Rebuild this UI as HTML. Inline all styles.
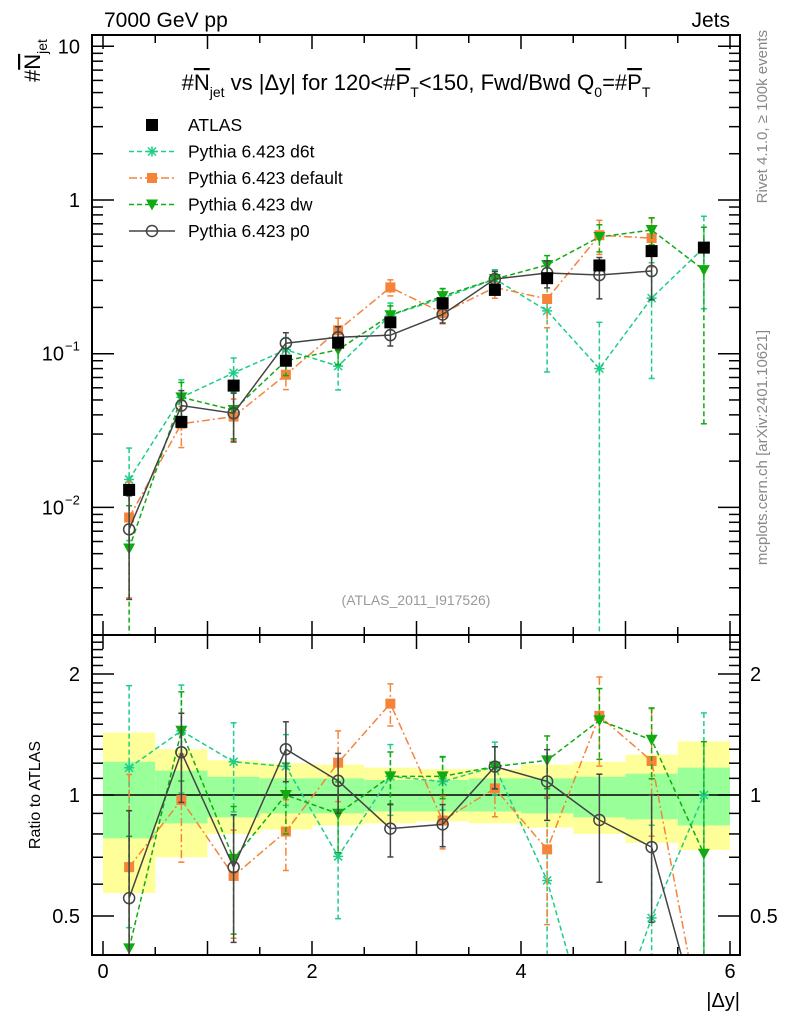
<!DOCTYPE html>
<html><head><meta charset="utf-8"><style>
html,body{margin:0;padding:0;background:#fff;width:786px;height:1024px;overflow:hidden;}
svg{display:block;font-family:"Liberation Sans",sans-serif;}
</style></head><body>
<svg id="c" width="786" height="1024" viewBox="0 0 786 1024">
<defs>
<clipPath id="mainClip"><rect x="92" y="35" width="648" height="600"/></clipPath>
<clipPath id="ratioClip"><rect x="92" y="635" width="648" height="320"/></clipPath>
</defs>
<g id="bands" clip-path="url(#ratioClip)"></g>
<g id="mainMarks" clip-path="url(#mainClip)"></g>
<g id="ratioMarks" clip-path="url(#ratioClip)"></g>
<rect x="92" y="35" width="648" height="600" fill="none" stroke="#000" stroke-width="2"/>
<rect x="92" y="635" width="648" height="320" fill="none" stroke="#000" stroke-width="2"/>
<g id="axes"></g>
<text x="104" y="27" font-size="21">7000 GeV pp</text>
<text x="730" y="27" font-size="21" text-anchor="end">Jets</text>
<text x="416" y="90" font-size="22" text-anchor="middle">#<tspan text-decoration="overline">N</tspan><tspan font-size="14" dy="7">jet</tspan><tspan dy="-7"> vs |Δy| for 120&lt;#</tspan><tspan text-decoration="overline">P</tspan><tspan font-size="14" dy="7">T</tspan><tspan dy="-7">&lt;150, Fwd/Bwd Q</tspan><tspan font-size="14" dy="7">0</tspan><tspan dy="-7">=#</tspan><tspan text-decoration="overline">P</tspan><tspan font-size="14" dy="7">T</tspan></text>
<g transform="translate(40,82) rotate(-90)"><text x="0" y="0" font-size="22">#<tspan text-decoration="overline">N</tspan><tspan font-size="14" dy="7">jet</tspan></text></g>
<text transform="translate(40,795) rotate(-90)" font-size="16" text-anchor="middle">Ratio to ATLAS</text>
<text x="740" y="1007" font-size="20" text-anchor="end">|Δy|</text>
<text x="416" y="605" font-size="14" fill="#999" text-anchor="middle">(ATLAS_2011_I917526)</text>
<text transform="translate(767,30) rotate(-90)" font-size="15" fill="#888" text-anchor="end">Rivet 4.1.0, ≥ 100k events</text>
<text transform="translate(767,330) rotate(-90)" font-size="15" fill="#888" text-anchor="end">mcplots.cern.ch [arXiv:2401.10621]</text>
<g id="legend"></g>
</svg>
<script>
const xCenters=[0.25,0.75,1.25,1.75,2.25,2.75,3.25,3.75,4.25,4.75,5.25,5.75];
const atlas=[0.013,0.036,0.062,0.09,0.118,0.16,0.213,0.26,0.31,0.375,0.465,0.49];
const atlasErr=[0.15,0.12,0.1,0.09,0.09,0.08,0.08,0.08,0.09,0.1,0.12,0.14];
const d6t=[0.0152,0.052,0.075,0.106,0.083,0.178,0.23,0.306,0.19,0.08,0.23,0.49];
const d6tErr=[0.6,0.3,0.25,0.2,0.3,0.2,0.15,0.15,0.6,1.0,0.7,0.6];
const deflt=[0.0086,0.035,0.039,0.073,0.142,0.27,0.184,0.27,0.227,0.59,0.565,0];
const defltErr=[0.7,0.3,0.3,0.2,0.2,0.12,0.15,0.15,0.35,0.25,0.35,0];
const dw=[0.0054,0.052,0.043,0.09,0.106,0.178,0.237,0.306,0.378,0.575,0.638,0.35];
const dwErr=[0.9,0.25,0.35,0.2,0.2,0.15,0.12,0.12,0.15,0.2,0.2,0.9];
const p0=[0.0072,0.046,0.041,0.117,0.128,0.132,0.18,0.306,0.335,0.325,0.345,0];
const p0Err=[0.65,0.25,0.35,0.17,0.17,0.15,0.12,0.12,0.2,0.3,0.35,0];
const yellowUp=[1.43,1.30,1.22,1.20,1.19,1.17,1.16,1.16,1.19,1.21,1.26,1.36];
const yellowDn=[0.57,0.70,0.80,0.82,0.84,0.85,0.86,0.85,0.83,0.80,0.76,0.73];
const greenUp=[1.21,1.15,1.11,1.10,1.10,1.09,1.09,1.10,1.10,1.11,1.13,1.17];
const greenDn=[0.78,0.85,0.88,0.90,0.90,0.91,0.91,0.91,0.90,0.88,0.87,0.84];
const xTicks=[0,2,4,6];
const ratioTicks=[0.5,1,2];
const zeroRatio=0.25;

const NS="http://www.w3.org/2000/svg";
const X=v=>103+v*104.5;
const Y=v=>200-Math.log10(v)*153.7;
const R=v=>795-Math.log2(v)*121;
function mk(tag,attrs,parent){const e=document.createElementNS(NS,tag);for(const k in attrs)e.setAttribute(k,attrs[k]);parent.appendChild(e);return e;}
function clipPts(pts,ymax){
 const out=[];
 for(let i=0;i<pts.length;i++){
  const p=pts[i];
  if(p[1]<=ymax){out.push(p);continue;}
  const prev=pts[i-1],next=pts[i+1];
  if(prev&&prev[1]<=ymax){const t=(ymax-prev[1])/(p[1]-prev[1]);out.push([prev[0]+t*(p[0]-prev[0]),ymax]);}
  if(next&&next[1]<=ymax){const t=(ymax-next[1])/(p[1]-next[1]);out.push([next[0]+t*(p[0]-next[0]),ymax]);}
 }
 return out;
}
const axes=document.getElementById('axes');
for(let v=0;v<=6.25;v+=0.5){
 const major=Math.abs(v-Math.round(v))<1e-6;const L=major?14:8;
 for(const [y0,dir] of [[635,-1],[35,1],[955,-1],[635,1]]){
  const t=mk('line',{x1:X(v),x2:X(v),y1:y0,y2:y0+dir*L,stroke:'#000','stroke-width':1.5},axes);
  
  
 }
}
xTicks.forEach(v=>{const t=mk('text',{x:X(v),y:978,'font-size':20,'text-anchor':'middle'},axes);t.textContent=v;
 
 });
for(let d=-3;d<=1;d++){for(let m=1;m<10;m++){const v=m*Math.pow(10,d);const y=Y(v);if(y<35||y>635)continue;
 const L=m==1?22:11;
 for(const [x0,dir] of [[92,1],[740,-1]]){const t=mk('line',{x1:x0,x2:x0+dir*L,y1:y,y2:y,stroke:'#000','stroke-width':1.5},axes);
  
  }}}
[[10,"10",null],[1,"1",null],[0.1,"10","−1"],[0.01,"10","−2"]].forEach(([v,b,e])=>{
 const t=mk('text',{x:e?64:80,y:Y(v)+7,'font-size':20,'text-anchor':'end'},axes);t.textContent=b;
 
 
 if(e){const s=mk('text',{x:65,y:Y(v)-3,'font-size':13,'text-anchor':'start'},axes);s.textContent=e;
  
  }
});
for(let v=0.4;v<=2.5;v+=0.1){const y=R(v);if(y<635||y>955)continue;
 const maj=ratioTicks.some(r=>Math.abs(r-v)<1e-6);const L=maj?22:11;
 for(const [x0,dir] of [[92,1],[740,-1]]){const t=mk('line',{x1:x0,x2:x0+dir*L,y1:y,y2:y,stroke:'#000','stroke-width':1.5},axes);
  
  }}
ratioTicks.forEach(v=>{for(const [x,a] of [[80,'end'],[750,'start']]){const t=mk('text',{x:x,y:R(v)+7,'font-size':20,'text-anchor':a},axes);t.textContent=v;
 
 }});
const bands=document.getElementById('bands');
xCenters.forEach((c,i)=>{const x0=X(c-0.25),w=X(c+0.25)-x0;
 const yb=mk('rect',{x:x0,y:R(yellowUp[i]),width:w,height:R(yellowDn[i])-R(yellowUp[i]),fill:'#ffff99'},bands);
 
 
 const gb=mk('rect',{x:x0,y:R(greenUp[i]),width:w,height:R(greenDn[i])-R(greenUp[i]),fill:'#99ff99'},bands);
 
 
});
const one=mk('line',{x1:92,x2:740,y1:R(1),y2:R(1),stroke:'#000','stroke-width':1.5},bands);



function marker(g,type,x,y,col){
 if(type=='sq'){return mk('rect',{x:x-6,y:y-6,width:12,height:12,fill:col},g);}
 if(type=='osq'){return mk('rect',{x:x-5,y:y-5,width:10,height:10,fill:col},g);}
 if(type=='tri'){return mk('path',{d:`M${x-6},${y-5}L${x+6},${y-5}L${x},${y+6}Z`,fill:col},g);}
 if(type=='circ'){return mk('circle',{cx:x,cy:y,r:5.5,fill:'none',stroke:col,'stroke-width':1.5},g);}
 if(type=='star'){return mk('path',{d:`M${x-5},${y}H${x+5}M${x},${y-5}V${y+5}M${x-4},${y-4}L${x+4},${y+4}M${x-4},${y+4}L${x+4},${y-4}`,stroke:col,'stroke-width':1.5},g);}
}
const series=[
 {name:'d6t',vals:d6t,err:d6tErr,col:'#1fcc88',dash:'5,3',mk:'star'},
 {name:'default',vals:deflt,err:defltErr,col:'#f5833a',dash:'8,3,2,3',mk:'osq'},
 {name:'dw',vals:dw,err:dwErr,col:'#11aa11',dash:'5,3',mk:'tri'},
 {name:'p0',vals:p0,err:p0Err,col:'#444',dash:'',mk:'circ'}];
const mm=document.getElementById('mainMarks'),rm=document.getElementById('ratioMarks');
xCenters.forEach((c,i)=>{const v=atlas[i];
 const e=mk('line',{x1:X(c),x2:X(c),y1:Y(v*(1+atlasErr[i])),y2:Y(v*(1-atlasErr[i])),stroke:'#000','stroke-width':1.5},mm);
 
 
});
series.forEach(s=>{
 for(const [g,fy,ratio,ymax] of [[mm,Y,false,640],[rm,R,true,960]]){
  let pts=[];
  xCenters.forEach((c,i)=>{let v=s.vals[i];if(ratio)v=v>0?v/atlas[i]:zeroRatio;else if(v<=0)return;pts.push([X(c),fy(v)]);});
  pts=clipPts(pts,ymax);
  const pl=mk('polyline',{points:pts.map(p=>p.join(',')).join(' '),fill:'none',stroke:s.col,'stroke-width':1.5,'stroke-dasharray':s.dash},g);
  
  
  xCenters.forEach((c,i)=>{let v=s.vals[i];if(v<=0)return;if(ratio)v=v/atlas[i];
   const lo=Math.max(v*(1-s.err[i]),1e-4),hi=v*(1+s.err[i]);
   const yv=fy(v);if(yv>ymax)return;
   const yHi=fy(hi),yLo=Math.min(fy(lo),ymax);
   const eb=mk('line',{x1:X(c),x2:X(c),y1:yHi,y2:yLo,stroke:s.col,'stroke-width':1.5,'stroke-dasharray':s.dash},g);
   
   
   for(const yy of [yHi,yLo]){const cap=mk('line',{x1:X(c)-3,x2:X(c)+3,y1:yy,y2:yy,stroke:s.col,'stroke-width':1.5},g);
    
    }
   const m=marker(g,s.mk,X(c),yv,s.col);
   
   
  });
 }
});
xCenters.forEach((c,i)=>{const m=marker(mm,'sq',X(c),Y(atlas[i]),'#000');
 
 });
const lg=document.getElementById('legend');
const leg=[['ATLAS','#000','','sq'],['Pythia 6.423 d6t','#1fcc88','5,3','star'],['Pythia 6.423 default','#f5833a','8,3,2,3','osq'],['Pythia 6.423 dw','#11aa11','5,3','tri'],['Pythia 6.423 p0','#444','','circ']];
leg.forEach((l,i)=>{const y=125+i*26.5;
 if(i>0){const ln=mk('line',{x1:129,x2:175,y1:y,y2:y,stroke:l[1],'stroke-width':1.5,'stroke-dasharray':l[2]},lg);
  
  }
 const m=marker(lg,l[3],152,y,l[1]);
 
 
 const t=mk('text',{x:188,y:y+6,'font-size':17.5},lg);t.textContent=l[0];
 
 
});
</script>
</body></html>
